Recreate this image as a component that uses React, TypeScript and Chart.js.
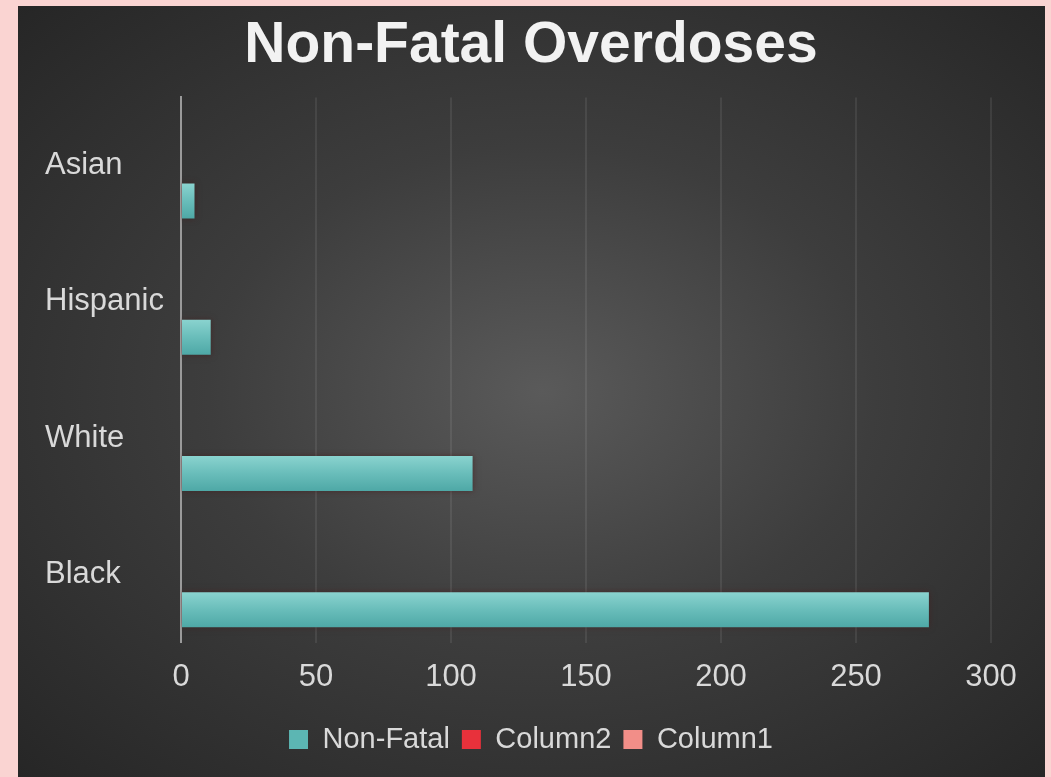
import React, { useEffect, useRef } from 'react';
import { Chart, registerables } from 'chart.js';

Chart.register(...registerables);

const titleText = 'Non-Fatal Overdoses';
const categories = ['Asian', 'Hispanic', 'White', 'Black'];
const nonFatal = [5, 11, 108, 277];
const column2: (number | null)[] = [null, null, null, null];
const column1: (number | null)[] = [null, null, null, null];
const seriesNames = ['Non-Fatal', 'Column2', 'Column1'];
const xMin = 0;
const xMax = 300;
const xStep = 50;

const FONT = '"Liberation Sans", Arial, sans-serif';
const TEXT = '#d9d9d9';

const barStyle = {
  id: 'barStyle',
  beforeDatasetsDraw(chart: any) {
    const ctx = chart.ctx;
    const meta = chart.getDatasetMeta(0);
    meta.data.forEach((el: any) => {
      const { y, height } = el.getProps(['y', 'height'], true);
      if (!isFinite(y) || !isFinite(height) || !height) return;
      const g = ctx.createLinearGradient(0, y - height / 2, 0, y + height / 2);
      g.addColorStop(0, '#8ad3cf');
      g.addColorStop(0.5, '#69bdba');
      g.addColorStop(1, '#4ea8a6');
      el.options = Object.assign({}, el.options, { backgroundColor: g });
    });
    ctx.save();
    ctx.shadowColor = 'rgba(70,25,25,0.6)';
    ctx.shadowBlur = 6;
  },
  afterDatasetsDraw(chart: any) {
    chart.ctx.restore();
  },
};

export default function App() {
  const ref = useRef<HTMLCanvasElement | null>(null);

  useEffect(() => {
    if (!ref.current) return;
    Chart.defaults.font.family = FONT;
    const chart = new Chart(ref.current, {
      type: 'bar',
      data: {
        labels: categories,
        datasets: [
          { label: seriesNames[0], data: nonFatal, backgroundColor: '#5cb6b3', borderWidth: 0, order: 3 },
          { label: seriesNames[1], data: column2, backgroundColor: '#e8313b', borderWidth: 0, order: 2 },
          { label: seriesNames[2], data: column1, backgroundColor: '#f28e88', borderWidth: 0, order: 1 },
        ],
      },
      options: {
        indexAxis: 'y',
        responsive: false,
        maintainAspectRatio: false,
        animation: false,
        layout: { padding: { left: 27, right: 28, top: 0, bottom: 13 } },
        datasets: { bar: { categoryPercentage: 0.78, barPercentage: 0.99 } },
        plugins: {
          title: {
            display: true,
            text: titleText,
            color: '#f2f2f2',
            font: { family: FONT, size: 57, weight: 'bold' },
            padding: { top: 6, bottom: 17 },
          },
          legend: {
            position: 'bottom',
            labels: {
              color: TEXT,
              font: { family: FONT, size: 29 },
              boxWidth: 19,
              boxHeight: 19,
              padding: 12,
              sort: (a: any, b: any) => a.datasetIndex - b.datasetIndex,
            },
          },
          tooltip: { enabled: false },
        },
        scales: {
          x: {
            min: xMin,
            max: xMax,
            ticks: { stepSize: xStep, color: TEXT, font: { family: FONT, size: 31 }, padding: 16 },
            grid: {
              color: (c: any) => (c.index === 0 ? 'rgba(0,0,0,0)' : 'rgba(255,255,255,0.08)'),
              lineWidth: 2,
              drawTicks: false,
            },
            border: { display: false },
            afterFit: (s: any) => {
              s.height = 70.5;
            },
          },
          y: {
            ticks: { color: TEXT, font: { family: FONT, size: 31 }, crossAlign: 'far' },
            grid: { display: false, drawTicks: false },
            border: { display: true, color: '#9a9a9a', width: 2 },
            afterFit: (s: any) => {
              s.width = 136;
            },
          },
          yRight: {
            position: 'right',
            axis: 'y',
            type: 'category',
            ticks: { display: false },
            grid: { display: false, drawTicks: false },
            border: { display: false },
            afterFit: (s: any) => {
              s.width = 26;
            },
          },
        },
      } as any,
      plugins: [barStyle],
    });
    return () => chart.destroy();
  }, []);

  return (
    <div style={{ position: 'fixed', left: 0, top: 0, width: 1051, height: 777, background: '#fad4d2', overflow: 'hidden' }}>
      <div
        style={{
          position: 'absolute',
          left: 18,
          top: 6,
          width: 1027,
          height: 771,
          background: 'radial-gradient(ellipse at 51% 50%, #5a5a5a 0%, #3d3d3d 45%, #262626 100%)',
        }}
      >
        <canvas ref={ref} width={1027} height={771} style={{ display: 'block', width: 1027, height: 771 }} />
      </div>
    </div>
  );
}
